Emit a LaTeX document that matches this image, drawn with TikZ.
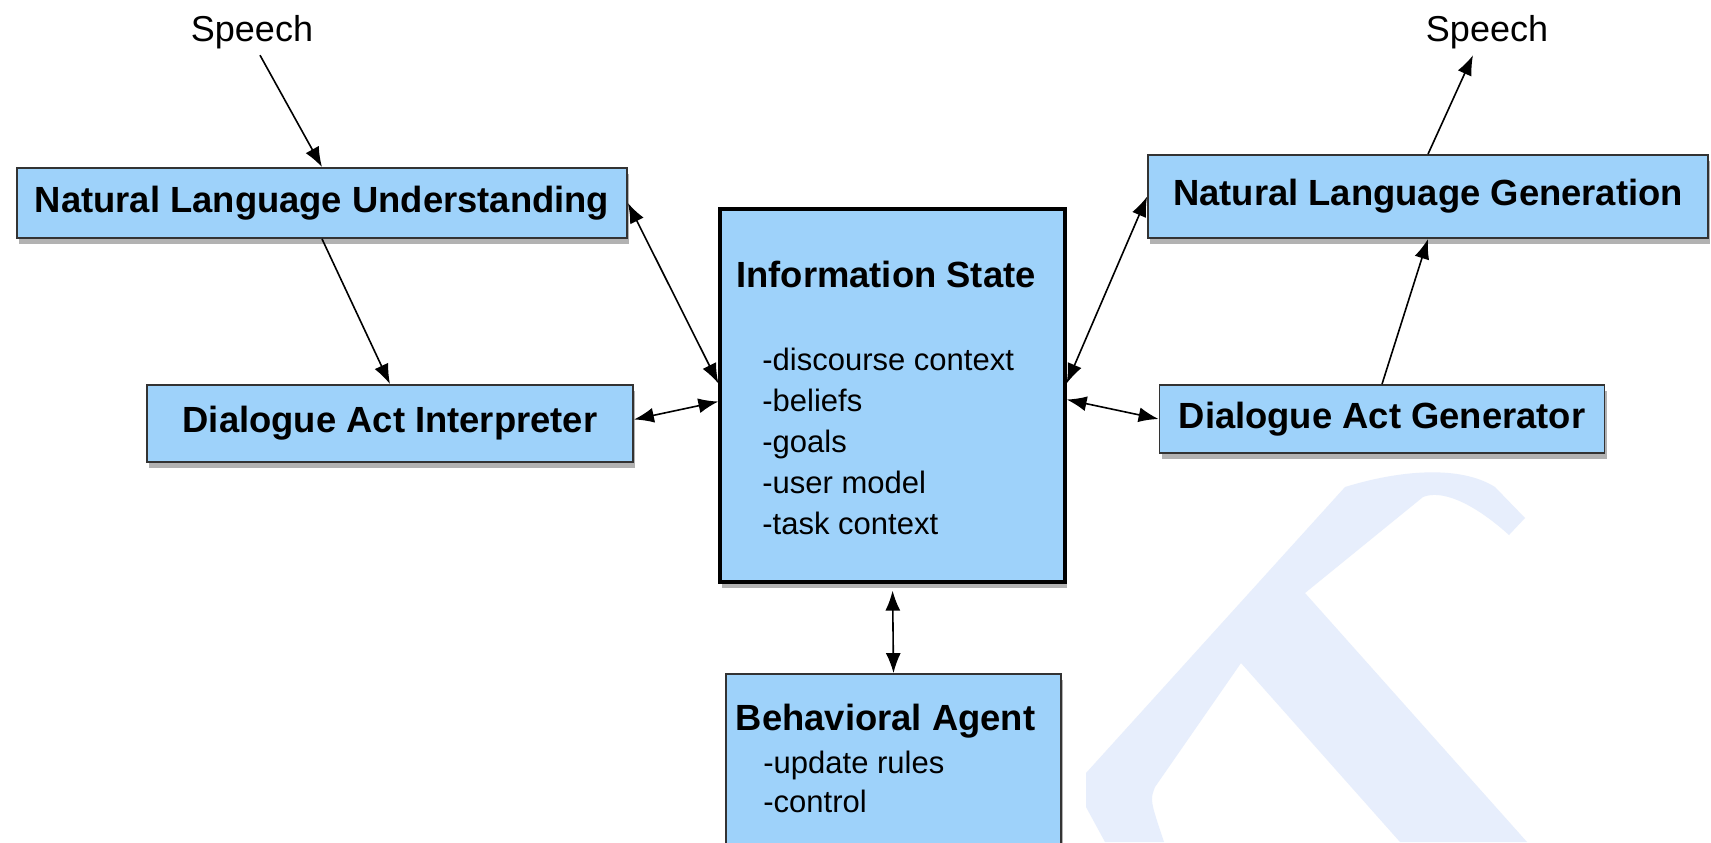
\documentclass[tikz,border=0pt]{standalone}
\usepackage{fontspec}
\setmainfont{Liberation Sans}
\usepackage{tikz}
\usetikzlibrary{arrows.meta,shadows}
\definecolor{boxblue}{RGB}{158,210,250}
\definecolor{markblue}{RGB}{231,238,252}

\begin{document}
\begin{tikzpicture}[x=0.5pt,y=-0.5pt,
  blk/.style={draw=black!80,line width=0.9pt,fill=boxblue,inner sep=0pt,
    drop shadow={shadow xshift=1.2pt,shadow yshift=-2.8pt,opacity=0.6},
    font=\fontsize{18.2}{21}\selectfont\bfseries},
  bigblk/.style={blk,draw=black,line width=1.6pt},
  ttl/.style={font=\fontsize{18.2}{21}\selectfont\bfseries,inner sep=0pt,anchor=base},
  itm/.style={font=\fontsize{15.5}{18}\selectfont,inner sep=0pt,anchor=base west},
  spch/.style={font=\fontsize{18}{21}\selectfont,inner sep=3pt},
  arr/.style={line width=0.8pt,-{Latex[length=10pt,width=7.5pt]}},
  darr/.style={line width=0.8pt,{Latex[length=10pt,width=7.5pt]}-{Latex[length=10pt,width=7.5pt]}}]
\fill[white] (0,0) rectangle (1711,842);
\useasboundingbox (0,0) rectangle (1711,842);

\fill[markblue] (1105,842) -- (1086,807) -- (1086,773) -- (1345,487)
  .. controls (1400,470) and (1460,465) .. (1495,487) -- (1525,518) -- (1509,535)
  .. controls (1470,500) and (1440,490) .. (1423,497)
  -- (1305,593) -- (1527,842) -- (1400,842) -- (1241,663) -- (1155,787)
  .. controls (1150,800) .. (1164,842) -- cycle;

\node[spch] (sp1) at (252,32) {Speech};
\node[spch] (sp2) at (1487,32) {Speech};

\node[blk,minimum width=305pt,minimum height=35pt] (nlu) at (322,203) {Natural Language Understanding};
\node[blk,minimum width=243pt,minimum height=38.5pt] (dai) at (390,423.5) {Dialogue Act Interpreter};
\node[blk,minimum width=280pt,minimum height=41.5pt] (nlg) at (1428,196.5) {Natural Language Generation};
\node[blk,minimum width=222.5pt,minimum height=34pt] (dag) at (1382,419) {Dialogue Act Generator};

\node[bigblk,minimum width=172.5pt,minimum height=186.5pt] (is) at (892.5,395.5) {};
\node[ttl] (istitle) at (886,287) {Information State};
\node[itm] (isa) at (762,370) {-discourse context};
\node[itm] (isb) at (762,411) {-beliefs};
\node[itm] (isc) at (762,452) {-goals};
\node[itm] (isd) at (762,493) {-user model};
\node[itm] (ise) at (762,534) {-task context};

\node[blk,minimum width=167.5pt,minimum height=86pt] (ba) at (893.5,760) {};
\node[ttl] (batitle) at (885.5,730) {Behavioral Agent};
\node[itm] (baa) at (763,773) {-update rules};
\node[itm] (bab) at (763,812) {-control};

\draw[arr] ([xshift=4pt]sp1.south) -- (nlu.north);
\draw[arr] (nlu.south) -- (dai.north);
\draw[arr] (dag.north) -- (nlg.south);
\draw[arr] (nlg.north) -- ([xshift=-7pt]sp2.south);
\draw[darr] (nlu.east) -- ([yshift=6pt]is.west);
\draw[darr] ([yshift=2pt]dai.east) -- ([yshift=-3pt]is.west);
\draw[darr] ([yshift=6pt]is.east) -- (nlg.west);
\draw[darr] ([yshift=-2pt]is.east) -- (dag.west);
\draw[darr,shorten <=3.5pt] (is.south) -- (ba.north);
\end{tikzpicture}
\end{document}
